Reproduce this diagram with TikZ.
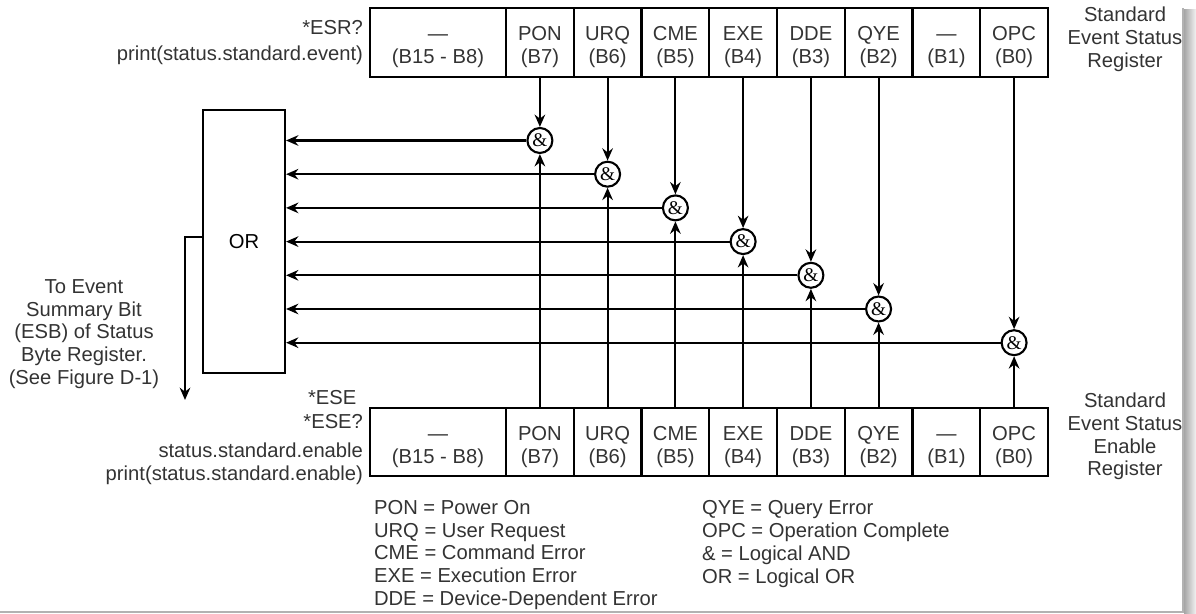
\documentclass[tikz,border=0pt]{standalone}
\usepackage{fontspec}
\setmainfont{Liberation Sans}
\newfontfamily\ampfont{Liberation Serif}
\usetikzlibrary{arrows.meta}

\begin{document}
\begin{tikzpicture}[x=0.02cm, y=-0.02cm, line width=1.2pt,
  lbl/.style={font=\fontsize{11.5}{13}\selectfont, text=black!80, inner sep=0pt},
  bitcell/.style={draw, minimum width=1.355cm, minimum height=1.37cm, inner sep=0pt, align=center, font=\fontsize{11.5}{13}\selectfont, text=black!80, text height=27pt, text depth=3pt},
  andgate/.style={circle, draw, minimum size=0.5cm, inner sep=0pt, fill=white, font=\ampfont\fontsize{11}{11}\selectfont},
  arr/.style={-{Stealth[length=7pt,width=6pt]}}]
\useasboundingbox (0,0) rectangle (1196,614);

\node[bitcell, minimum width=2.72cm] (t15) at (438,42.5) {—\\(B15 - B8)};
\node[bitcell] (t7) at (539.9,42.5) {PON\\(B7)};
\node[bitcell] (t6) at (607.6,42.5) {URQ\\(B6)};
\node[bitcell] (t5) at (675.4,42.5) {CME\\(B5)};
\node[bitcell] (t4) at (743.1,42.5) {EXE\\(B4)};
\node[bitcell] (t3) at (810.9,42.5) {DDE\\(B3)};
\node[bitcell] (t2) at (878.6,42.5) {QYE\\(B2)};
\node[bitcell] (t1) at (946.4,42.5) {—\\(B1)};
\node[bitcell] (t0) at (1014.1,42.5) {OPC\\(B0)};

\node[bitcell, minimum width=2.72cm] (b15) at (438,442) {—\\(B15 - B8)};
\node[bitcell] (b7) at (539.9,442) {PON\\(B7)};
\node[bitcell] (b6) at (607.6,442) {URQ\\(B6)};
\node[bitcell] (b5) at (675.4,442) {CME\\(B5)};
\node[bitcell] (b4) at (743.1,442) {EXE\\(B4)};
\node[bitcell] (b3) at (810.9,442) {DDE\\(B3)};
\node[bitcell] (b2) at (878.6,442) {QYE\\(B2)};
\node[bitcell] (b1) at (946.4,442) {—\\(B1)};
\node[bitcell] (b0) at (1014.1,442) {OPC\\(B0)};

\node[andgate] (g7) at (539.9,140.5) {\&};
\node[andgate] (g6) at (607.6,174.2) {\&};
\node[andgate] (g5) at (675.4,207.9) {\&};
\node[andgate] (g4) at (743.1,241.6) {\&};
\node[andgate] (g3) at (810.9,275.3) {\&};
\node[andgate] (g2) at (878.6,309) {\&};
\node[andgate] (g0) at (1014.1,342.7) {\&};

\node[lbl, draw, text=black, minimum width=1.64cm, minimum height=5.26cm] (orbox) at (244,241.5) {OR};
\coordinate (esb) at (185,400);

\draw[arr] (t7) -- (g7);
\draw[arr] (t6) -- (g6);
\draw[arr] (t5) -- (g5);
\draw[arr] (t4) -- (g4);
\draw[arr] (t3) -- (g3);
\draw[arr] (t2) -- (g2);
\draw[arr] (t0) -- (g0);

\draw[arr] (b7) -- (g7);
\draw[arr] (b6) -- (g6);
\draw[arr] (b5) -- (g5);
\draw[arr] (b4) -- (g4);
\draw[arr] (b3) -- (g3);
\draw[arr] (b2) -- (g2);
\draw[arr] (b0) -- (g0);

\draw[arr] (g7) -- (g7 -| orbox.east);
\draw[arr] (g6) -- (g6 -| orbox.east);
\draw[arr] (g5) -- (g5 -| orbox.east);
\draw[arr] (g4) -- (g4 -| orbox.east);
\draw[arr] (g3) -- (g3 -| orbox.east);
\draw[arr] (g2) -- (g2 -| orbox.east);
\draw[arr] (g0) -- (g0 -| orbox.east);

\draw[arr] ([yshift=0.09cm]orbox.west) -| (esb);

\node[lbl, anchor=east] (esrq) at (364,28) {*ESR?};
\node[lbl, anchor=east] (esrp) at (364,55) {print(status.standard.event)};
\node[lbl, align=center] (sesr) at (1125,39) {Standard\\Event Status\\Register};
\node[lbl, anchor=west] (ese) at (307,398) {*ESE};
\node[lbl, anchor=east] (eseq) at (364,422) {*ESE?};
\node[lbl, anchor=east] (esee) at (364,450) {status.standard.enable};
\node[lbl, anchor=east] (esep) at (364,475) {print(status.standard.enable)};
\node[lbl, align=center] (seser) at (1125,436.5) {Standard\\Event Status\\Enable\\Register};
\node[lbl, align=center] (esbtxt) at (84,334) {To Event\\Summary Bit\\(ESB) of Status\\Byte Register.\\(See Figure D-1)};
\node[lbl, align=left, anchor=west] (legl) at (373,555) {PON = Power On\\URQ = User Request\\CME = Command Error\\EXE = Execution Error\\DDE = Device-Dependent Error};
\node[lbl, align=left, anchor=west] (legr) at (701,544) {QYE = Query Error\\OPC = Operation Complete\\\& = Logical AND\\OR = Logical OR};

\draw[gray!60, line width=0.6pt] (0,612) -- (1183,612) -- (1183,8);
\shade[left color=gray!70, right color=gray!10] (1184,10) rectangle (1196,614);

\end{tikzpicture}
\end{document}
